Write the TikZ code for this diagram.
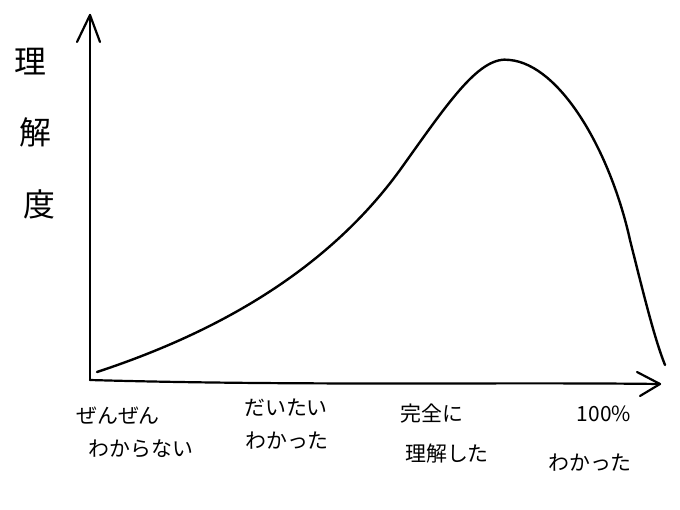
\documentclass[tikz,border=0pt]{standalone}
\usepackage{fontspec}
\newfontfamily\jp{Noto Sans CJK JP}
\begin{document}
\begin{tikzpicture}[x=1bp,y=-1bp,
  axis/.style={line width=2.2bp,line cap=round,line join=round},
  curve/.style={line width=2.4bp,line cap=round},
  ylab/.style={font=\jp\fontsize{32}{32}\selectfont},
  xlab/.style={font=\jp\fontsize{21}{24}\selectfont}]
\useasboundingbox (0,0) rectangle (680,510);
\coordinate (o) at (90,380);
\coordinate (ytip) at (90,15);
\coordinate (xtip) at (660,384);
\draw[axis] (o) -- (ytip);
\draw[axis] (77,42) -- (ytip) -- (100,42);
\draw[axis] (o) .. controls (300,386) and (500,382) .. (xtip);
\draw[axis] (637,372) -- (xtip) -- (640,396);
\draw[curve] (97,372) .. controls (200,338) and (320,280) .. (400,170)
  .. controls (450,100) and (480,55) .. (510,60)
  .. controls (560,65) and (610,150) .. (630,240)
  .. controls (645,300) and (655,340) .. (665,365);
\node[ylab] (l1) at (30,62) {理};
\node[ylab] (l2) at (35,132) {解};
\node[ylab] (l3) at (39,204) {度};
\node[xlab] (a1) at (118,416) {ぜんぜん};
\node[xlab] (a2) at (141,449) {わからない};
\node[xlab] (b1) at (286,408) {だいたい};
\node[xlab] (b2) at (287,441) {わかった};
\node[xlab] (c1) at (432,414) {完全に};
\node[xlab] (c2) at (447,454) {理解した};
\node[xlab] (d1) at (604,414) {100\%};
\node[xlab] (d2) at (590,463) {わかった};
\end{tikzpicture}
\end{document}
